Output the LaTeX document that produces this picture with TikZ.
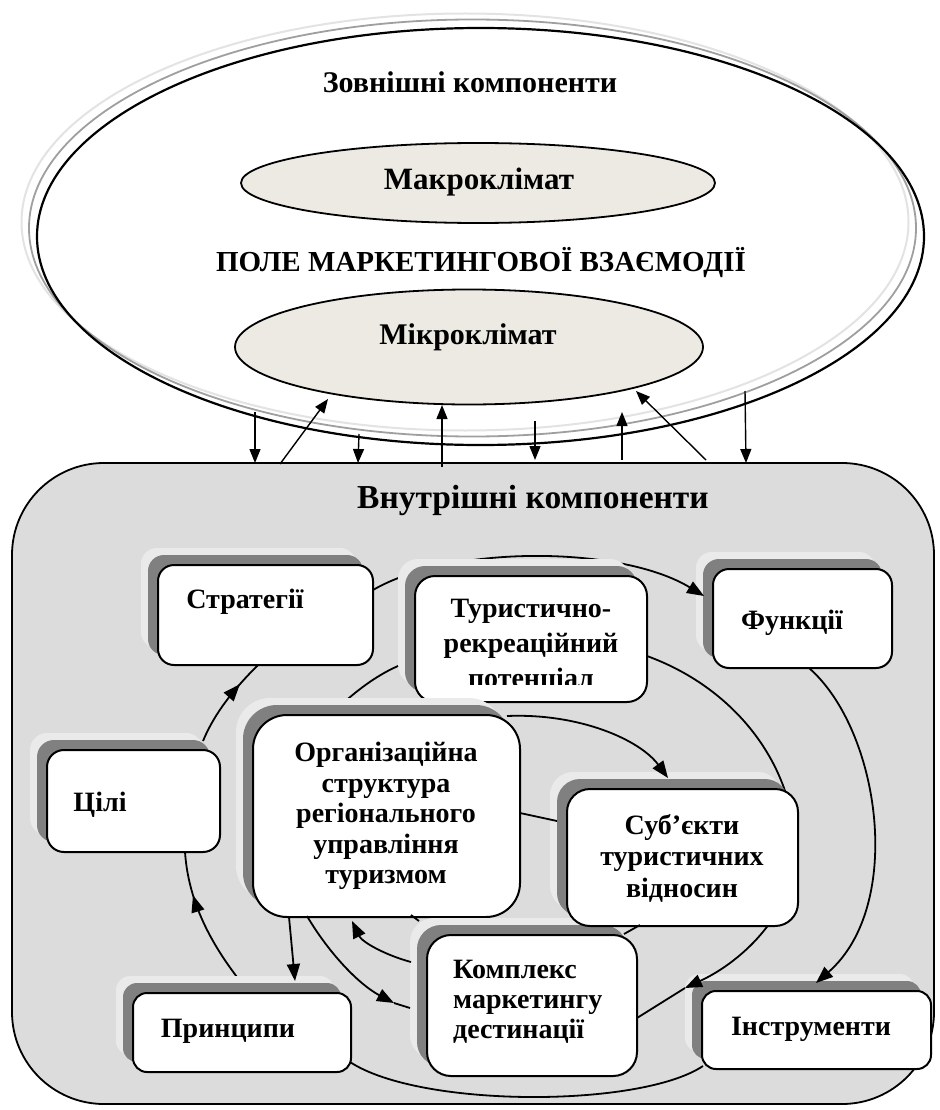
\documentclass[tikz,border=0pt]{standalone}
\usepackage{fontspec}
\usepackage{graphicx}
\setmainfont{Liberation Serif}
\usetikzlibrary{arrows.meta,decorations.markings,shapes.geometric}
\definecolor{bgrey}{HTML}{DCDCDC}
\definecolor{halo}{HTML}{EAEAEA}
\definecolor{shad}{HTML}{808080}
\definecolor{beige}{HTML}{ECEAE2}
\tikzset{
  txt/.style={font=\bfseries\fontsize{28}{31}\selectfont, align=center, inner sep=0pt},
  conn/.style={line width=1.8pt},
  bigarrow/.style={-{Triangle[length=17pt,width=13pt]}},
  toparrow/.style={line width=1.4pt, -{Triangle[length=14pt,width=11pt]}},
  midarrow/.style={postaction={decorate}, decoration={markings, mark=at position #1 with {\arrow{Triangle[length=17pt,width=13pt]}}}},
  ell/.style={ellipse, draw, line width=1.8pt, fill=beige, inner sep=0pt},
}
\newcommand\drawbox[6]{%
  \fill[halo, rounded corners=#6] ({#2-17},{#3-17}) rectangle ({#4-17},{#5-17});
  \fill[shad, rounded corners=#6] ({#2-10},{#3-10}) rectangle ({#4-10},{#5-10});
  \node[draw, line width=2pt, fill=white, rounded corners=#6, inner sep=0pt,
        minimum width={(#4-#2)*1pt}, minimum height={(#5-#3)*1pt}]
        (#1) at ({(#2+#4)/2},{(#3+#5)/2}) {};
}
\begin{document}
\begin{tikzpicture}[x=1pt,y=-1pt]
\useasboundingbox (0,0) rectangle (939,1110);
\fill[white] (0,0) rectangle (939,1110);

% inner field
\node (inner) [draw, fill=bgrey, rounded corners=92pt, line width=1.8pt, inner sep=0pt,
  minimum width=922pt, minimum height=641pt] at (473,783.5) {};
\node (innertitle) [txt, font=\bfseries\fontsize{33.5}{36}\selectfont] at (533,500) {Внутрішні компоненти};

% outer ellipse (triple stroke)
\draw[gray!22, line width=2pt] (465,222) ellipse [x radius=443.5, y radius=208.5];
\draw[gray!75, line width=1.8pt] (472.5,228) ellipse [x radius=443.5, y radius=208.5];
\node (outer) [ellipse, draw, line width=2.2pt, inner sep=0pt, minimum width=887pt, minimum height=417pt] at (480.5,236.5) {};

\node (outertitle) [txt, font=\bfseries\fontsize{30}{32}\selectfont] at (470,82) {Зовнішні компоненти};
\node (macro) [ell, minimum width=474pt, minimum height=80pt] at (478,183) {};
\node (macrot) [txt, font=\bfseries\fontsize{31}{32}\selectfont] at (479,182) {Макроклімат};
\node (field) [txt, font=\bfseries\fontsize{29}{32}\selectfont] at (481,263) {ПОЛЕ МАРКЕТИНГОВОЇ ВЗАЄМОДІЇ};
\node (micro) [ell, minimum width=468pt, minimum height=115pt] at (469,347) {};
\node (microt) [txt, font=\bfseries\fontsize{30}{32}\selectfont] at (468,337) {Мікроклімат};

% arrows between fields
\coordinate (a1s) at (255,412); \coordinate (a1e) at (255,463);
\coordinate (a2s) at (280,464); \coordinate (a2e) at (328,399);
\coordinate (a3s) at (359,434); \coordinate (a3e) at (358,463);
\coordinate (a4s) at (442,467); \coordinate (a4e) at (442,405);
\coordinate (a5s) at (535,421); \coordinate (a5e) at (535,460);
\coordinate (a6s) at (622,460); \coordinate (a6e) at (622,412);
\coordinate (a7s) at (706,460); \coordinate (a7e) at (636,391);
\coordinate (a8s) at (745,391); \coordinate (a8e) at (746,463);
\foreach \i in {1,...,8} { \draw[toparrow] (a\i s) -- (a\i e); }

% connector end points
\coordinate (c1s) at (373,590); \coordinate (c1e) at (704,596);
\coordinate (c2s) at (809,668); \coordinate (c2e) at (816,983);
\coordinate (c3s) at (703,1066); \coordinate (c3e) at (350,1062);
\coordinate (c4s) at (237,977); \coordinate (c4e) at (185,852);
\coordinate (c5s) at (203,741); \coordinate (c5e) at (258,665);
\coordinate (c6s) at (647,656); \coordinate (c6m) at (795,850); \coordinate (c6a) at (685,988); \coordinate (c6e) at (637,1018);
\coordinate (c7s) at (411,962); \coordinate (c7e) at (352,921);
\coordinate (c8s) at (307,916); \coordinate (c8a) at (394,1003); \coordinate (c8e) at (410,1008);
\coordinate (c9s) at (289,917); \coordinate (c9e) at (295,981);
\coordinate (c10s) at (507,716); \coordinate (c10e) at (668,778);
\coordinate (c11s) at (520,813); \coordinate (c11e) at (557,821);
\coordinate (c12s) at (640,925); \coordinate (c12e) at (624,934);
\coordinate (c13s) at (398,666); \coordinate (c13e) at (330,716);
\coordinate (c14s) at (411,915); \coordinate (c14e) at (419,921);

% connectors running behind the boxes
\draw[conn] (c3s) .. controls (640,1108) and (420,1108) .. (c3e);
\draw[conn, midarrow=0.68] (c4s) .. controls (205,935) and (188,895) .. (c4e);
\draw[conn, midarrow=0.72] (c5s) .. controls (215,712) and (235,688) .. (c5e);

% boxes and connectors in drawing order
\drawbox{strat}{158}{565}{373}{665}{16pt}
\drawbox{func}{713}{569}{892}{668}{16pt}
\draw[conn, bigarrow] (c1s) .. controls (450,545) and (620,545) .. (c1e);
\drawbox{tour}{415}{576}{647}{702}{20pt}
\begin{scope}
\clip (415,576) rectangle (647,684);
\node (tourt) [txt, font=\bfseries\fontsize{28}{35}\selectfont] at (531,646) {Туристично-\\рекреаційний\\потенціал};
\end{scope}
\draw[conn] (c13s) .. controls (375,676) and (350,695) .. (c13e);
\drawbox{org}{253}{715}{520}{917}{34pt}
\drawbox{kompl}{427}{935}{637}{1076}{24pt}
\drawbox{cili}{47}{750}{220}{852}{17pt}
\drawbox{princ}{133}{993}{351}{1072}{14pt}
\drawbox{instr}{702}{991}{931}{1069}{14pt}
\draw[conn] (c6s) .. controls (740,690) and (795,770) .. (c6m);
\draw[conn, bigarrow] (c6m) .. controls (795,910) and (745,960) .. (c6a);
\draw[conn] (c6a) -- (c6e);
\drawbox{subj}{567}{789}{798}{926}{23pt}

\draw[conn, bigarrow] (c2s) .. controls (880,730) and (905,905) .. (c2e);
\draw[conn, bigarrow] (c7s) .. controls (385,955) and (362,942) .. (c7e);
\draw[conn, bigarrow] (c8s) .. controls (330,955) and (360,985) .. (c8a);
\draw[conn] (c8a) -- (c8e);
\draw[conn, bigarrow] (c9s) -- (c9e);
\draw[conn, bigarrow] (c10s) .. controls (580,713) and (640,740) .. (c10e);
\draw[conn] (c11s) -- (c11e);
\draw[conn] (c12s) -- (c12e);
\draw[conn] (c14s) -- (c14e);

% box texts
\node (stratt) [txt] at (245,602) {Стратегії};
\node (funct) [txt] at (792,623) {Функції};
\node (orgt) [txt, font=\bfseries\fontsize{28}{30.5}\selectfont] at (386,816) {Організаційна\\структура\\регіонального\\управління\\туризмом};
\node (komplt) [txt, anchor=west, align=left, font=\bfseries\fontsize{28}{30}\selectfont] at (453,1002) {Комплекс\\маркетингу\\дестинації};
\node (subjt) [txt, font=\bfseries\fontsize{28}{31.5}\selectfont] at (682,858) {Суб’єкти\\туристичних\\відносин};
\node (cilit) [txt] at (100,805) {Цілі};
\node (princt) [txt] at (228,1031) {Принципи};
\node (instrt) [txt] at (811,1029) {Інструменти};
\end{tikzpicture}
\end{document}
